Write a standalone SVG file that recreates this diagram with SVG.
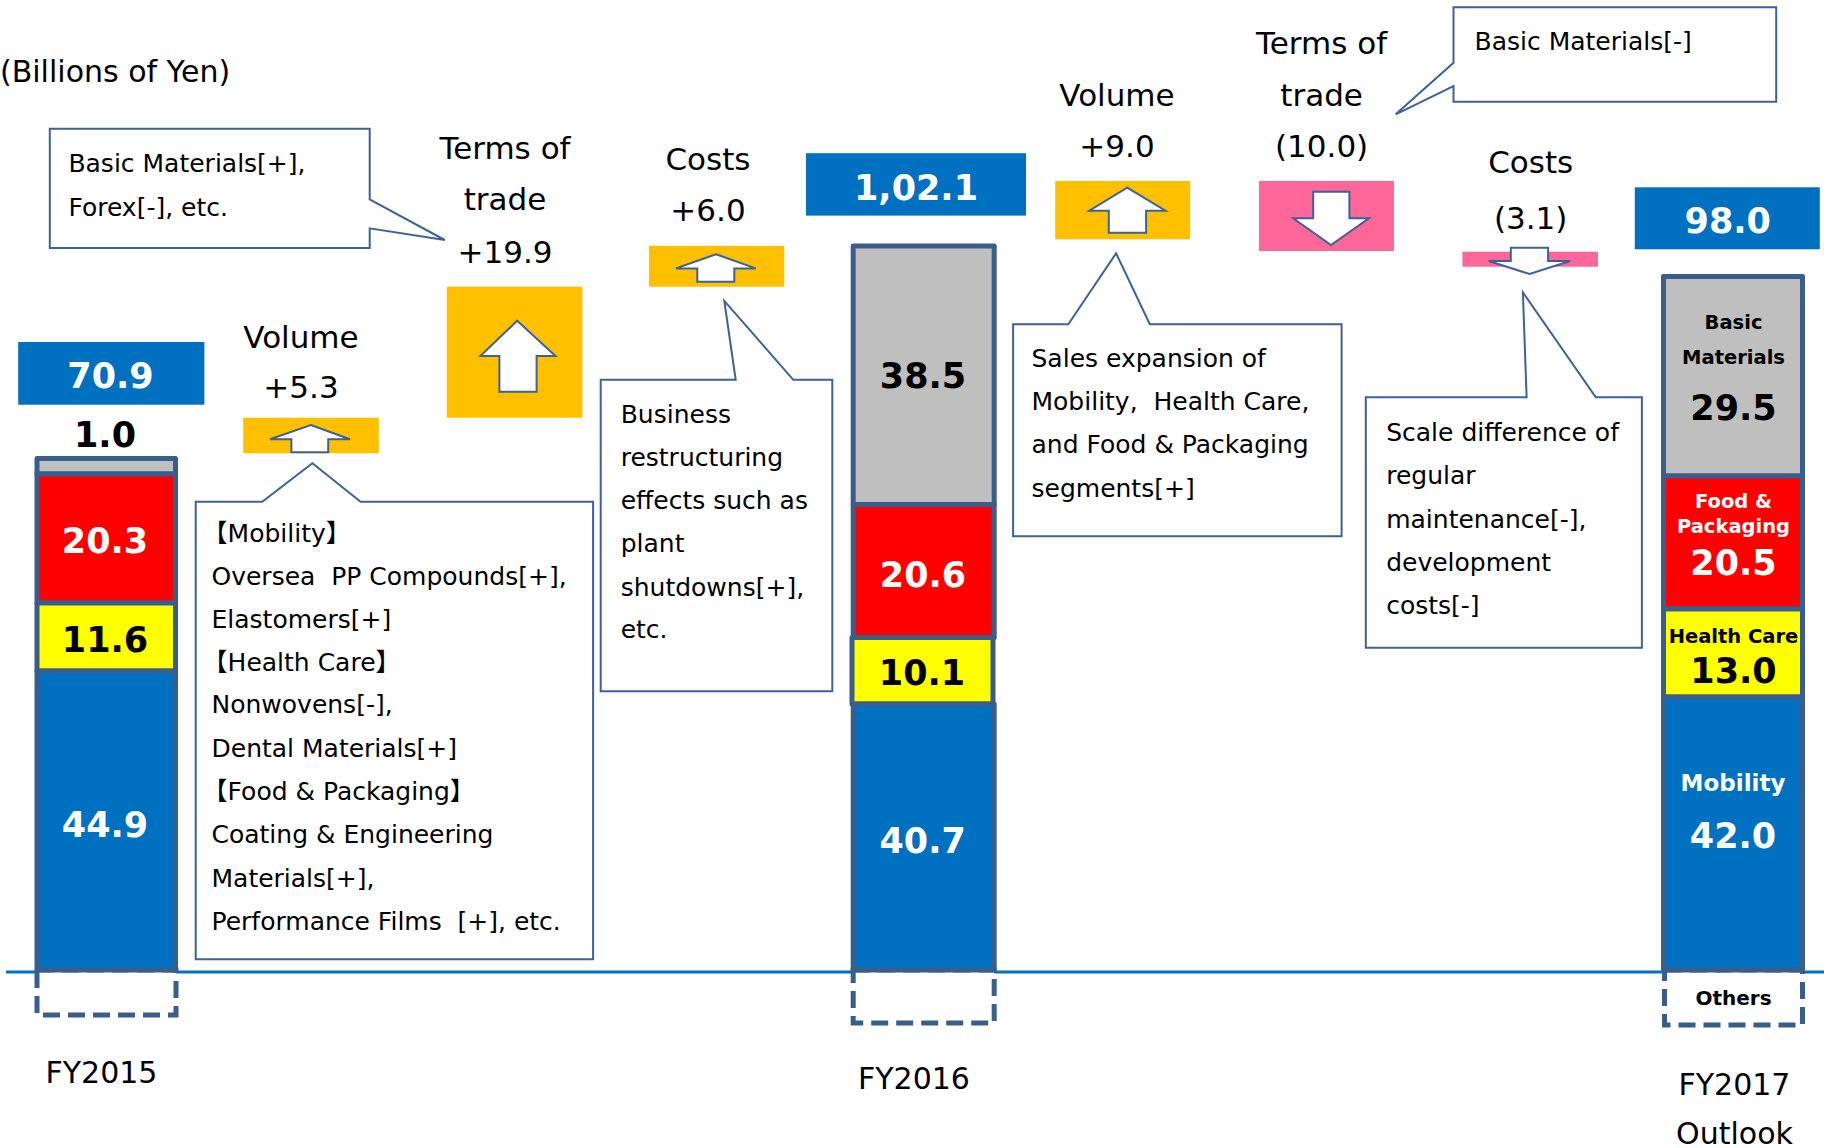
<svg xmlns="http://www.w3.org/2000/svg" width="1824" height="1148" viewBox="0 0 1824 1148">
<defs>
<style>
text{font-family:"DejaVu Sans","Noto Sans CJK JP",sans-serif;fill:#000}
.lbl{font-size:31px;text-anchor:middle}
.ct{font-size:25px}
.num{font-size:35px;font-weight:bold;text-anchor:middle}
.w{fill:#fff}
.seg{font-size:19.5px;font-weight:bold;text-anchor:middle}
.callout{fill:#fff;stroke:#3C6296;stroke-width:2;stroke-linejoin:miter}
.arrow{fill:#fff;stroke:#3C6296;stroke-width:2;stroke-linejoin:miter}
.bar{stroke:#3A5E8C;stroke-width:5;stroke-linejoin:round}
.dash{fill:#fff;stroke:#3A5E8C;stroke-width:5;stroke-dasharray:17 8}
.hdr{fill:#0070C0}
.up{fill:#FFC000}
.dn{fill:#FF6699}
</style>
</defs>
<rect width="1824" height="1148" fill="#fff"/>

<text id="unit" x="0" y="82" style="font-size:30px">(Billions of Yen)</text>

<g id="connectors"/>

<!-- axis -->
<line id="axis" x1="6" y1="972" x2="1824" y2="972" stroke="#0070C0" stroke-width="3"/>

<!-- FY2015 -->
<g id="fy2015">
<rect class="dash" x="37" y="970" width="139" height="45"/>
<rect class="bar" x="37" y="458.5" width="138.5" height="15.5" fill="#BFBFBF"/>
<rect class="bar" x="37" y="474" width="138.5" height="129" fill="#FF0000"/>
<rect class="bar" x="37" y="603" width="138.5" height="68" fill="#FFFF00"/>
<rect class="bar" x="37" y="671" width="138.5" height="299" fill="#0070C0"/>
<text class="num w" x="105" y="552.7">20.3</text>
<text class="num" x="105" y="651.7">11.6</text>
<text class="num w" x="105" y="837.3">44.9</text>
<text class="num" x="105" y="447.3">1.0</text>
<text x="45.5" y="1083.3" style="font-size:30px">FY2015</text>
</g>
<g id="total2015">
<rect class="hdr" x="18.2" y="342" width="186.2" height="62.7"/>
<text class="num w" x="110.5" y="388.3">70.9</text>
</g>

<!-- Volume +5.3 -->
<g id="volume1">
<text class="lbl" x="301" y="348.3">Volume</text>
<text class="lbl" x="301" y="398.3">+5.3</text>
<rect class="up" x="243.2" y="417.7" width="135.6" height="35.6"/>
<polygon class="arrow" points="310.8,425 350,439.3 328.2,439.3 328.2,452.3 291.4,452.3 291.4,439.3 270,439.3"/>
</g>
<g id="callout-volume1">
<path class="callout" d="M195.7,501.7 H262.2 L312.4,463.3 L360.6,501.7 H593.1 V959.3 H195.7 Z"/>
<text class="ct" x="202.6" y="542">【Mobility】</text>
<text class="ct" x="211.5" y="585" xml:space="preserve">Oversea  PP Compounds[+],</text>
<text class="ct" x="211.5" y="627.7">Elastomers[+]</text>
<text class="ct" x="202.6" y="670.7">【Health Care】</text>
<text class="ct" x="211.5" y="713.3">Nonwovens[-],</text>
<text class="ct" x="211.5" y="756.7">Dental Materials[+]</text>
<text class="ct" x="202.6" y="800">【Food &amp; Packaging】</text>
<text class="ct" x="211.5" y="843.3">Coating &amp; Engineering</text>
<text class="ct" x="211.5" y="886.7">Materials[+],</text>
<text class="ct" x="211.5" y="930" xml:space="preserve">Performance Films  [+], etc.</text>
</g>

<!-- Terms of trade +19.9 -->
<g id="callout-terms1">
<path class="callout" d="M49.8,128.7 H369.7 V199.3 L444.8,240 L369.7,228.3 V248 H49.8 Z"/>
<text class="ct" x="68.4" y="171.7">Basic Materials[+],</text>
<text class="ct" x="68.4" y="216">Forex[-], etc.</text>
</g>
<g id="terms1">
<text class="lbl" x="505" y="159">Terms of</text>
<text class="lbl" x="505" y="210">trade</text>
<text class="lbl" x="505" y="263">+19.9</text>
<rect class="up" x="446.8" y="286.7" width="135.6" height="131"/>
<polygon class="arrow" points="517.2,320.7 555.5,356 536.6,356 536.6,391.7 499.4,391.7 499.4,356 480.4,356"/>
</g>

<!-- Costs +6.0 -->
<g id="costs1">
<text class="lbl" x="708" y="170">Costs</text>
<text class="lbl" x="708" y="220.6">+6.0</text>
<rect class="up" x="649" y="245.8" width="135.3" height="41"/>
<polygon class="arrow" points="716,254.2 755.7,268.4 734.3,268.4 734.3,281.8 697.3,281.8 697.3,268.4 676,268.4"/>
</g>
<g id="callout-costs1">
<path class="callout" d="M600.7,379.8 H735.7 L724.3,300.9 L793.3,379.8 H832.3 V691.3 H600.7 Z"/>
<text class="ct" x="620.7" y="423.4">Business</text>
<text class="ct" x="620.7" y="465.5">restructuring</text>
<text class="ct" x="620.7" y="508.7">effects such as</text>
<text class="ct" x="620.7" y="551.6">plant</text>
<text class="ct" x="620.7" y="595.6">shutdowns[+],</text>
<text class="ct" x="620.7" y="637.7">etc.</text>
</g>

<!-- FY2016 -->
<g id="fy2016">
<rect class="dash" x="853.2" y="970" width="141" height="53"/>
<rect class="bar" x="853.2" y="246" width="141" height="258.5" fill="#BFBFBF"/>
<rect class="bar" x="853.2" y="504.5" width="141" height="133" fill="#FF0000"/>
<rect class="bar" x="852" y="637.5" width="141" height="66.5" fill="#FFFF00"/>
<rect class="bar" x="853.2" y="704" width="141" height="266" fill="#0070C0"/>
<text class="num" x="923" y="387.8">38.5</text>
<text class="num w" x="923" y="586.8">20.6</text>
<text class="num" x="922" y="685">10.1</text>
<text class="num w" x="922.7" y="853.4">40.7</text>
<text class="lbl" x="914" y="1089.3" style="font-size:30px">FY2016</text>
</g>
<g id="total2016">
<rect class="hdr" x="806" y="153.2" width="220" height="62.4"/>
<text class="num w" x="916" y="200.3">1,02.1</text>
</g>

<!-- Volume +9.0 -->
<g id="volume2">
<text class="lbl" x="1117" y="106">Volume</text>
<text class="lbl" x="1117" y="156.7">+9.0</text>
<rect class="up" x="1055.2" y="181" width="135" height="58.3"/>
<polygon class="arrow" points="1127.2,187.7 1165.5,210.7 1146.1,210.7 1146.1,232.7 1108.8,232.7 1108.8,210.7 1089.3,210.7"/>
</g>
<g id="callout-volume2">
<path class="callout" d="M1013.1,324.3 H1068.3 L1116.1,253.3 L1149.8,324.3 H1341.6 V536.3 H1013.1 Z"/>
<text class="ct" x="1031.5" y="366.7">Sales expansion of</text>
<text class="ct" x="1031.5" y="410" xml:space="preserve">Mobility,  Health Care,</text>
<text class="ct" x="1031.5" y="453.3">and Food &amp; Packaging</text>
<text class="ct" x="1031.5" y="496.7">segments[+]</text>
</g>

<!-- Terms of trade (10.0) -->
<g id="terms2">
<text class="lbl" x="1321.6" y="54.3">Terms of</text>
<text class="lbl" x="1321.6" y="106">trade</text>
<text class="lbl" x="1321.6" y="156.7">(10.0)</text>
<rect class="dn" x="1259" y="181" width="135" height="70"/>
<polygon class="arrow" points="1313.2,191.7 1349.4,191.7 1349.4,218.3 1368.9,218.3 1331,245 1293.2,218.3 1313.2,218.3"/>
</g>
<g id="callout-terms2">
<path class="callout" d="M1453.5,7.3 H1776.2 V101.7 H1453.5 V86 L1395.7,114.3 L1453.5,62.7 Z"/>
<text class="ct" x="1474.5" y="50">Basic Materials[-]</text>
</g>

<!-- Costs (3.1) -->
<g id="costs2">
<text class="lbl" x="1530.7" y="173.3">Costs</text>
<text class="lbl" x="1530.7" y="229.3">(3.1)</text>
<rect class="dn" x="1462.4" y="251.7" width="135.6" height="15"/>
<polygon class="arrow" points="1510.8,247.7 1548.1,247.7 1548.1,261 1570.2,261 1529.7,274 1488.7,261 1510.8,261"/>
</g>
<g id="callout-costs2">
<path class="callout" d="M1365.8,397.3 H1526.6 L1522.9,292.3 L1595.8,397.3 H1641.9 V647.7 H1365.8 Z"/>
<text class="ct" x="1386.2" y="440.7">Scale difference of</text>
<text class="ct" x="1386.2" y="484.3">regular</text>
<text class="ct" x="1386.2" y="527.7">maintenance[-],</text>
<text class="ct" x="1386.2" y="570.7">development</text>
<text class="ct" x="1386.2" y="614">costs[-]</text>
</g>

<!-- FY2017 -->
<g id="fy2017">
<rect class="dash" x="1664.5" y="970" width="138" height="55"/>
<rect class="bar" x="1663.5" y="276.5" width="139" height="199.5" fill="#BFBFBF"/>
<rect class="bar" x="1663.5" y="476" width="139" height="133" fill="#FF0000"/>
<rect class="bar" x="1663.5" y="609" width="139" height="88" fill="#FFFF00"/>
<rect class="bar" x="1663.5" y="697" width="139" height="273" fill="#0070C0"/>
<text class="seg" x="1733.5" y="329">Basic</text>
<text class="seg" x="1733.5" y="364">Materials</text>
<text class="num" x="1733.5" y="420">29.5</text>
<text class="seg w" x="1733.5" y="508.3">Food &amp;</text>
<text class="seg w" x="1733.5" y="533.3">Packaging</text>
<text class="num w" x="1733.5" y="575">20.5</text>
<text class="seg" x="1733.5" y="642.7">Health Care</text>
<text class="num" x="1733.5" y="683.3">13.0</text>
<text class="seg w" x="1733" y="790.7" style="font-size:23px">Mobility</text>
<text class="num w" x="1733" y="848.3">42.0</text>
<text class="seg" x="1733.5" y="1005" style="font-size:20px">Others</text>
<text class="lbl" x="1734.5" y="1095" style="font-size:30px">FY2017</text>
<text class="lbl" x="1734.5" y="1143.5" style="font-size:30px">Outlook</text>
</g>
<g id="total2017">
<rect class="hdr" x="1634.8" y="187.3" width="185" height="62"/>
<text class="num w" x="1727.8" y="233.3">98.0</text>
</g>
</svg>
